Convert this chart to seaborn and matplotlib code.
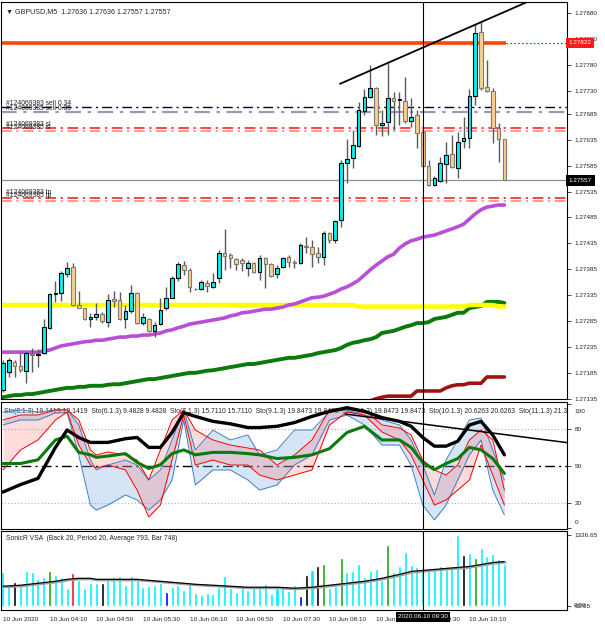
import numpy as np
import matplotlib
matplotlib.use("Agg")
import matplotlib.pyplot as plt
import matplotlib.transforms as mtrans
from matplotlib import font_manager
import seaborn as sns

# GBPUSD M5, 10 Jun 2020 03:30 .. 10:40 (87 bars)
opens = [1.27152, 1.27187, 1.27206, 1.27198, 1.27189, 1.27221, 1.27220, 1.27223, 1.27272, 1.27337,
         1.27339, 1.27376, 1.27389, 1.27316, 1.27310, 1.27289, 1.27293, 1.27299, 1.27283, 1.27328,
         1.27326, 1.27289, 1.27304, 1.27339, 1.27281, 1.27289, 1.27266, 1.27279, 1.27310, 1.27330,
         1.27368, 1.27393, 1.27384, 1.27347, 1.27347, 1.27358, 1.27351, 1.27368, 1.27416, 1.27413,
         1.27405, 1.27403, 1.27387, 1.27397, 1.27380, 1.27407, 1.27395, 1.27376, 1.27389, 1.27409,
         1.27399, 1.27397, 1.27430, 1.27428, 1.27416, 1.27409, 1.27455, 1.27442, 1.27480, 1.27590,
         1.27600, 1.27623, 1.27691, 1.27718, 1.27735, 1.27664, 1.27669, 1.27716, 1.27712, 1.27710,
         1.27671, 1.27683, 1.27650, 1.27584, 1.27548, 1.27555, 1.27588, 1.27608, 1.27581, 1.27633,
         1.27639, 1.27720, 1.27843, 1.27737, 1.27729, 1.27658, 1.27636]
highs = [1.27210, 1.27214, 1.27210, 1.27223, 1.27225, 1.27233, 1.27231, 1.27289, 1.27339, 1.27362,
         1.27382, 1.27399, 1.27397, 1.27343, 1.27310, 1.27301, 1.27320, 1.27302, 1.27337, 1.27343,
         1.27341, 1.27316, 1.27355, 1.27341, 1.27301, 1.27291, 1.27283, 1.27330, 1.27351, 1.27372,
         1.27399, 1.27401, 1.27387, 1.27349, 1.27364, 1.27364, 1.27378, 1.27422, 1.27463, 1.27416,
         1.27407, 1.27407, 1.27403, 1.27399, 1.27413, 1.27409, 1.27397, 1.27393, 1.27409, 1.27413,
         1.27403, 1.27436, 1.27447, 1.27442, 1.27428, 1.27459, 1.27457, 1.27480, 1.27596, 1.27637,
         1.27654, 1.27708, 1.27733, 1.27780, 1.27737, 1.27693, 1.27783, 1.27727, 1.27727, 1.27756,
         1.27716, 1.27693, 1.27652, 1.27596, 1.27565, 1.27602, 1.27631, 1.27644, 1.27650, 1.27679,
         1.27733, 1.27859, 1.27862, 1.27789, 1.27735, 1.27667, 1.27636]
lows = [1.27148, 1.27177, 1.27177, 1.27187, 1.27165, 1.27187, 1.27196, 1.27221, 1.27270, 1.27322,
        1.27324, 1.27370, 1.27314, 1.27310, 1.27287, 1.27274, 1.27287, 1.27281, 1.27274, 1.27312,
        1.27287, 1.27272, 1.27301, 1.27279, 1.27277, 1.27264, 1.27254, 1.27277, 1.27306, 1.27330,
        1.27362, 1.27374, 1.27341, 1.27345, 1.27345, 1.27341, 1.27349, 1.27358, 1.27384, 1.27387,
        1.27384, 1.27382, 1.27372, 1.27378, 1.27364, 1.27349, 1.27370, 1.27368, 1.27387, 1.27389,
        1.27387, 1.27395, 1.27416, 1.27389, 1.27397, 1.27393, 1.27436, 1.27436, 1.27467, 1.27552,
        1.27581, 1.27621, 1.27683, 1.27716, 1.27644, 1.27642, 1.27644, 1.27654, 1.27664, 1.27667,
        1.27660, 1.27619, 1.27582, 1.27546, 1.27546, 1.27554, 1.27552, 1.27581, 1.27561, 1.27619,
        1.27619, 1.27702, 1.27731, 1.27727, 1.27629, 1.27592, 1.27557]
closes = [1.27204, 1.27210, 1.27198, 1.27190, 1.27223, 1.27220, 1.27221, 1.27274, 1.27337, 1.27339,
          1.27378, 1.27387, 1.27316, 1.27310, 1.27289, 1.27293, 1.27299, 1.27285, 1.27326, 1.27324,
          1.27289, 1.27304, 1.27339, 1.27281, 1.27293, 1.27266, 1.27277, 1.27306, 1.27330, 1.27368,
          1.27395, 1.27384, 1.27351, 1.27346, 1.27360, 1.27353, 1.27360, 1.27416, 1.27411, 1.27407,
          1.27395, 1.27397, 1.27397, 1.27380, 1.27407, 1.27395, 1.27372, 1.27387, 1.27407, 1.27399,
          1.27397, 1.27432, 1.27428, 1.27414, 1.27409, 1.27455, 1.27442, 1.27478, 1.27590, 1.27598,
          1.27625, 1.27693, 1.27718, 1.27735, 1.27664, 1.27667, 1.27716, 1.27710, 1.27712, 1.27671,
          1.27679, 1.27648, 1.27584, 1.27548, 1.27561, 1.27590, 1.27606, 1.27582, 1.27631, 1.27639,
          1.27720, 1.27841, 1.27735, 1.27729, 1.27658, 1.27637, 1.27557]

# moving averages on the price panel
purple_ma = [1.27225, 1.27225, 1.27225, 1.27225, 1.27225, 1.27225, 1.27225, 1.27227, 1.27229, 1.27233,
             1.27237, 1.27239, 1.27241, 1.27243, 1.27245, 1.27246, 1.27248, 1.27248, 1.27250, 1.27252,
             1.27254, 1.27254, 1.27256, 1.27256, 1.27258, 1.27258, 1.27260, 1.27262, 1.27266, 1.27268,
             1.27272, 1.27275, 1.27279, 1.27281, 1.27283, 1.27285, 1.27287, 1.27289, 1.27291, 1.27295,
             1.27297, 1.27301, 1.27302, 1.27304, 1.27306, 1.27308, 1.27308, 1.27310, 1.27312, 1.27316,
             1.27318, 1.27322, 1.27326, 1.27330, 1.27331, 1.27333, 1.27337, 1.27341, 1.27347, 1.27351,
             1.27357, 1.27364, 1.27374, 1.27384, 1.27393, 1.27401, 1.27409, 1.27414, 1.27426, 1.27434,
             1.27440, 1.27443, 1.27447, 1.27449, 1.27451, 1.27455, 1.27459, 1.27463, 1.27467, 1.27472,
             1.27482, 1.27492, 1.27500, 1.27505, 1.27507, 1.27509, 1.27509]
green_ma = [1.27138, 1.27140, 1.27142, 1.27142, 1.27144, 1.27144, 1.27146, 1.27148, 1.27150, 1.27152,
            1.27154, 1.27156, 1.27156, 1.27158, 1.27158, 1.27160, 1.27160, 1.27160, 1.27162, 1.27163,
            1.27163, 1.27165, 1.27167, 1.27169, 1.27171, 1.27173, 1.27173, 1.27175, 1.27177, 1.27179,
            1.27181, 1.27183, 1.27185, 1.27185, 1.27187, 1.27189, 1.27190, 1.27192, 1.27194, 1.27196,
            1.27198, 1.27200, 1.27202, 1.27202, 1.27204, 1.27206, 1.27208, 1.27210, 1.27212, 1.27214,
            1.27214, 1.27216, 1.27218, 1.27220, 1.27223, 1.27225, 1.27227, 1.27229, 1.27233, 1.27239,
            1.27243, 1.27245, 1.27248, 1.27250, 1.27254, 1.27262, 1.27264, 1.27266, 1.27270, 1.27274,
            1.27277, 1.27281, 1.27281, 1.27283, 1.27289, 1.27291, 1.27293, 1.27297, 1.27301, 1.27301,
            1.27310, 1.27312, 1.27314, 1.27322, 1.27322, 1.27322, 1.27320]
yellow_idx = [0, 60, 61, 79, 80, 84, 85, 86]
yellow_ma = [1.27316, 1.27316, 1.27313, 1.27313, 1.27316, 1.27316, 1.27313, 1.27313]
dred_idx = list(range(58, 87))
dred_ma = [1.27113, 1.27117, 1.27121, 1.27125, 1.27127, 1.27131, 1.27135, 1.27138, 1.27140, 1.27140,
           1.27140, 1.27140, 1.27140, 1.27150, 1.27150, 1.27150, 1.27150, 1.27150, 1.27156, 1.27160,
           1.27162, 1.27162, 1.27165, 1.27165, 1.27165, 1.27177, 1.27177, 1.27177, 1.27177]

level_high = 1.27822
sell_levels = [1.27698, 1.27689]
sl_levels = [1.27658, 1.27652]
tp_levels = [1.27523, 1.27517]
last_price = 1.27557
price_ticks = [1.27880, 1.27830, 1.27780, 1.27730, 1.27685, 1.27635, 1.27585, 1.27535,
               1.27485, 1.27435, 1.27385, 1.27335, 1.27285, 1.27235, 1.27185, 1.27135]
main_trend_x = [57.8, 89.9]
main_trend_y = [1.27743, 1.27901]

# oscillator panel, read at these bar indices
knot_idx = [0, 3, 6, 9, 11, 13, 15, 16, 18, 21, 23, 25, 27, 29, 31, 33, 36, 39, 42, 44, 47,
            50, 53, 56, 59, 62, 65, 68, 70, 72, 74, 76, 78, 80, 82, 84, 86]
black_sto = [29, 35, 40, 65, 79, 73, 69, 69, 69, 72, 73, 65, 65, 77, 93, 90, 86, 84, 81, 81, 82,
             85, 90, 94, 97, 94, 89, 86, 82, 73, 66, 66, 70, 83, 86, 75, 59]
green_sto = [52, 52, 55, 71, 74, 61, 59, 57, 58, 60, 53, 48, 51, 60, 63, 59, 61, 61, 60, 59, 56,
             57, 59, 64, 77, 82, 71, 71, 65, 53, 47, 52, 56, 65, 63, 56, 44]
blue_hi = [93.5, 95.2, 93.5, 95.2, 95.2, 83.1, 54.8, 46.8, 50.8, 54.8, 50.8, 38.7, 46.8, 71.0,
           95.2, 62.9, 79.0, 71.0, 75.0, 58.9, 62.9, 79.0, 79.0, 93.5, 95.2, 91.1, 87.1, 83.1,
           71.0, 50.8, 26.6, 54.8, 71.0, 87.1, 88.7, 62.9, 38.7]
blue_lo = [83.1, 87.1, 87.1, 92.7, 93.0, 58.9, 18.5, 14.5, 18.5, 26.6, 22.6, 14.5, 22.6, 38.7,
           87.1, 34.7, 46.8, 46.8, 38.7, 30.6, 34.7, 50.8, 58.9, 87.1, 91.1, 83.1, 66.9, 66.9,
           50.8, 18.5, 6.5, 18.5, 38.7, 58.9, 71.0, 30.6, 10.5]
red_hi = [87.1, 91.1, 91.1, 95.2, 95.2, 87.1, 62.9, 58.9, 61.3, 58.9, 54.8, 38.7, 62.9, 87.1,
          95.2, 79.0, 71.0, 66.9, 64.5, 62.9, 50.8, 58.9, 71.0, 95.2, 96.0, 95.2, 83.1, 80.6,
          75.0, 54.8, 46.8, 42.7, 50.8, 71.0, 79.0, 71.0, 30.6]
red_lo = [46.8, 62.9, 71.0, 87.1, 93.5, 66.9, 50.8, 48.4, 50.8, 46.8, 30.6, 8.9, 18.5, 54.8,
          91.1, 50.8, 54.8, 50.8, 50.8, 42.7, 38.7, 42.7, 46.8, 83.1, 93.5, 91.1, 77.4, 71.0,
          58.9, 38.7, 18.5, 22.6, 30.6, 38.7, 66.9, 42.7, 18.5]
osc_trend_x = [58.7, 97.3]
osc_trend_y = [91.9, 68.5]
osc_levels = [100, 80, 50, 20, 0]

# volume panel
volumes = [636, 401, 445, 401, 655, 643, 509, 548, 655, 579,
           541, 350, 624, 484, 338, 439, 426, 439, 516, 554,
           573, 401, 573, 497, 369, 382, 401, 439, 261, 369,
           401, 306, 439, 242, 210, 242, 223, 369, 573, 350,
           274, 382, 306, 338, 338, 414, 229, 338, 376, 287,
           401, 190, 592, 674, 764, 796, 338, 382, 911, 636,
           655, 796, 548, 655, 701, 497, 1146, 636, 751, 1018,
           783, 732, 688, 688, 701, 751, 707, 764, 1336.65, 974,
           1006, 911, 1102, 955, 987, 892, 802]
vol_kind = "nnbnnnnngn" "nnrnnnnbnn" "nnnnnnnnun" "nnnnnnnnnn" "nnnnnnnnnn" \
           "nubnbgnngn" "nnnnnngnnn" "nnnnnnnnnb" "ngnnnnn"
vol_avg = [374, 393, 430, 468, 505, 524, 524, 505, 505, 505, 505, 486, 468, 449, 430, 411, 393,
           374, 355, 355, 355, 337, 355, 393, 430, 468, 524, 598, 655, 673, 692, 711, 729, 748,
           785, 823, 842]

tick_idx = [0, 8, 16, 24, 32, 40, 48, 56, 64, 72, 80]
tick_text = ["10 Jun 2020", "10 Jun 04:10", "10 Jun 04:50", "10 Jun 05:30", "10 Jun 06:10",
             "10 Jun 06:50", "10 Jun 07:30", "10 Jun 08:10", "10 Jun 08:50", "10 Jun 09:30",
             "10 Jun 10:10"]
cross_idx = 72

sns.set_style("white")
installed = {f.name for f in font_manager.fontManager.ttflist}
if 'Liberation Sans Narrow' in installed:
    plt.rcParams['font.family'] = ['Liberation Sans Narrow', 'DejaVu Sans']
    k = 1.18
else:
    plt.rcParams['font.family'] = ['Liberation Sans', 'DejaVu Sans']
    k = 1.0
FS = 4.9 * k      # titles / order labels
TS = 4.6 * k      # tick labels

W, H = 605, 625
fig = plt.figure(figsize=(W / 100, H / 100), dpi=100)


def panel(top, bottom):
    return fig.add_axes([1 / W, 1 - bottom / H, 566 / W, (bottom - top) / H])


ax = panel(2, 399)
ax_osc = panel(402, 529)
ax_vol = panel(531, 610)
for a in (ax, ax_osc, ax_vol):
    a.set_xlim(-0.34, 96.74)
    for s in a.spines.values():
        s.set_color('black')
        s.set_linewidth(0.8)
    a.yaxis.tick_right()
    a.tick_params(axis='y', direction='out', length=3, width=0.6, pad=2.5, labelsize=TS)
    a.axvline(cross_idx, color='black', lw=0.8, zorder=6)
ax.set_xticks([])
ax_osc.set_xticks([])

idx = np.arange(len(closes))
o, h, l, c = map(np.array, (opens, highs, lows, closes))

# ---- price panel
ax.set_ylim(1.271345, 1.27901)
ax.hlines(level_high, -1, 86.3, color='#ff4500', lw=2.6, zorder=2)
ax.hlines(level_high, 86.3, 97, color='#ff0000', lw=0.8, ls=(0, (1.5, 2)), zorder=2)
dd = (0, (7, 3, 1.5, 3))
ax.axhline(sell_levels[0], color='#00003a', lw=1.0, ls=dd, zorder=1)
ax.axhline(sell_levels[1], color='#9a9ab8', lw=1.6, ls=dd, zorder=1)
for lv, col in zip(sl_levels + tp_levels, ['#ff1010', '#ff8080', '#ff1010', '#ff8080']):
    ax.axhline(lv, color=col, lw=1.1, ls=dd, zorder=1)
ax.axhline(last_price, color='#8a909a', lw=0.9, zorder=1)

sns.lineplot(x=idx, y=green_ma, ax=ax, color='#0a7a0a', lw=2.8, legend=False, zorder=2)
sns.lineplot(x=yellow_idx, y=yellow_ma, ax=ax, color='#ffff00', lw=3.2, legend=False, zorder=2)
sns.lineplot(x=dred_idx, y=dred_ma, ax=ax, color='#a01212', lw=2.6, legend=False, zorder=2)
sns.lineplot(x=idx, y=purple_ma, ax=ax, color='#b94ed8', lw=2.6, legend=False, zorder=2)

ax.vlines(idx, l, h, color='#5a5a5a', lw=1.0, zorder=3)
up = c >= o
lo_b = np.minimum(o, c)
hgt = np.maximum(np.abs(c - o), 0.000015)
ax.bar(idx[up], hgt[up], bottom=lo_b[up], width=0.62, color='#00f2f2',
       edgecolor='black', linewidth=0.8, zorder=4)
ax.bar(idx[~up], hgt[~up], bottom=lo_b[~up], width=0.62, color='#f8d08e',
       edgecolor='#7a7a7a', linewidth=0.8, zorder=4)
ax.plot(main_trend_x, main_trend_y, color='black', lw=1.3, zorder=5)

ax.set_yticks(price_ticks)
ax.set_yticklabels([f"{v:.5f}" for v in price_ticks])
ax.set_ylabel("")

tp_kw = dict(fontsize=FS, va='bottom', ha='left', color='#202020', zorder=7)
ax.text(0.6, sell_levels[0], "#124069383 sell 0.34", **tp_kw)
ax.text(0.6, sell_levels[1], "#124069385 sell 0.35", **tp_kw)
ax.text(0.6, sl_levels[0], "#124069383 sl", **tp_kw)
ax.text(0.6, sl_levels[1], "#124069385 sl", **tp_kw)
ax.text(0.6, tp_levels[0] + 0.00003, "#124069383 tp", **tp_kw)
ax.text(0.6, tp_levels[1] + 0.00003, "#124069385 tp", **tp_kw)
ax.text(0.008, 0.985, "\u25BC GBPUSD,M5  1.27636 1.27636 1.27557 1.27557", transform=ax.transAxes,
        fontsize=FS + 0.2, va='top', ha='left')

tr = mtrans.blended_transform_factory(ax.transAxes, ax.transData)
ax.text(1.003, level_high, f"{level_high:.5f}", transform=tr, fontsize=TS, color='white',
        va='center', ha='left', clip_on=False, zorder=10,
        bbox=dict(boxstyle='square,pad=0.45', fc='#ff1a1a', ec='none'))
ax.text(1.003, last_price, f"{last_price:.5f}", transform=tr, fontsize=TS, color='white',
        va='center', ha='left', clip_on=False, zorder=10,
        bbox=dict(boxstyle='square,pad=0.45', fc='black', ec='none'))

# ---- stochastic panel
ax_osc.set_ylim(-0.8, 101.6)
ax_osc.axhline(80, color='#b0b0b0', lw=0.8, ls=(0, (1, 2)))
ax_osc.axhline(20, color='#b0b0b0', lw=0.8, ls=(0, (1, 2)))
ax_osc.axhline(50, color='black', lw=1.0, ls=(0, (7, 3, 1.5, 3)))
ax_osc.text(0.006, 0.955,
            "Sto(8.1.3) 19.1419 19.1419  Sto(6.1.3) 9.4828 9.4828  Sto(7.1.3) 15.7110 15.7110  "
            "Sto(9.1.3) 19.8473 19.8473  Sto(9.1.3) 19.8473 19.8473  Sto(10.1.3) 20.6263 20.6263  "
            "Sto(11.1.3) 21.3",
            transform=ax_osc.transAxes, fontsize=FS, va='top', ha='left', clip_on=True, zorder=1)
ax_osc.fill_between(knot_idx, blue_lo, blue_hi, color='#7fb0e0', alpha=0.32, lw=0, zorder=2)
ax_osc.fill_between(knot_idx, red_lo, red_hi, color='#ff6060', alpha=0.22, lw=0, zorder=2)
for ser, col in ((blue_hi, '#3f7fc4'), (blue_lo, '#3f7fc4'), (red_hi, '#ff0000'), (red_lo, '#ff0000')):
    sns.lineplot(x=knot_idx, y=ser, ax=ax_osc, color=col, lw=0.7, legend=False, zorder=3)
sns.lineplot(x=knot_idx, y=green_sto, ax=ax_osc, color='#0a7a0a', lw=2.2, legend=False, zorder=4)
sns.lineplot(x=knot_idx, y=black_sto, ax=ax_osc, color='black', lw=2.4, legend=False, zorder=4)
ax_osc.plot(osc_trend_x, osc_trend_y, color='black', lw=1.1, zorder=5)
ax_osc.set_yticks(osc_levels)
ax_osc.set_yticklabels([str(v) for v in osc_levels])
ax_osc.set_ylabel("")
for lab in ax_osc.get_yticklabels():
    shift = {'100': -5, '0': 4}.get(lab.get_text(), 0)
    if shift:
        lab.set_transform(lab.get_transform() +
                          mtrans.ScaledTranslation(0, shift / 72, fig.dpi_scale_trans))

# ---- volume panel
kind_color = {'n': '#00f0ff', 'b': 'black', 'g': '#1aa31a', 'r': '#ff1020', 'u': '#0000ff'}
ax_vol.set_ylim(-76, 1420)
ax_vol.bar(idx, volumes, width=0.52, color=[kind_color[ch] for ch in vol_kind], zorder=2)
sns.lineplot(x=np.array(knot_idx) + 0.25, y=np.array(vol_avg) - 20, ax=ax_vol, color='#a0a0a0',
             lw=1.4, legend=False, zorder=3)
sns.lineplot(x=knot_idx, y=vol_avg, ax=ax_vol, color='black', lw=0.9, legend=False, zorder=4)
ax_vol.text(0.008, 0.95, "SonicR VSA  (Back 20, Period 20, Average 793, Bar 748)",
            transform=ax_vol.transAxes, fontsize=FS, va='top', ha='left')
ax_vol.set_yticks([1336.65, 0])
ax_vol.set_yticklabels(["1336.65", "63.65"])
ax_vol.text(1.012, 0, "0.00", transform=mtrans.blended_transform_factory(ax_vol.transAxes, ax_vol.transData),
            fontsize=TS, va='center', ha='left', clip_on=False)
ax_vol.set_ylabel("")
ax_vol.set_xticks(tick_idx)
ax_vol.set_xticklabels(tick_text, ha='left', fontsize=TS)
ax_vol.tick_params(axis='x', direction='out', length=3, width=0.6, pad=2)

fig.text(423 / W, 1 - 617 / H, "2020.06.10 09:30", fontsize=TS, color='white', ha='center',
         va='center', zorder=20, bbox=dict(boxstyle='square,pad=0.35', fc='black', ec='none'))

fig.savefig("out.png", dpi=100)
